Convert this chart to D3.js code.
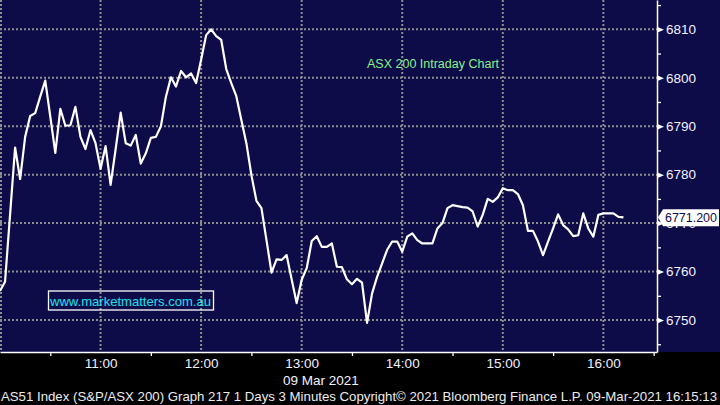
<!DOCTYPE html>
<html>
<head>
<meta charset="utf-8">
<script src="https://cdn.jsdelivr.net/npm/d3@7"></script>
<style>
  body { margin: 0; background: #000; }
  svg { display: block; font-family: "Liberation Sans", Arial, sans-serif; }
</style>
</head>
<body>
<div id="chart"></div>
<script>
// 3 minute bars, the first one at 10:00
const startTime = '2021-03-09 10:00'
const endTime = '2021-03-09 16:32'
const stepMinutes = 3
const values = [
  6756.0, 6757.9, 6771.7, 6785.6, 6779.1, 6787.8, 6792.1, 6792.7, 6796.1, 6799.4,
  6792.0, 6784.5, 6793.6, 6790.1, 6790.2, 6794.0, 6787.8, 6785.3, 6789.2, 6786.5,
  6781.2, 6785.9, 6777.9, 6785.3, 6792.8, 6786.5, 6786.0, 6788.2, 6782.3, 6784.4,
  6787.6, 6787.8, 6790.0, 6796.1, 6800.1, 6798.2, 6801.4, 6800.1, 6800.9, 6798.9,
  6803.7, 6808.8, 6810.0, 6808.6, 6807.8, 6801.8, 6798.9, 6796.2, 6791.3, 6786.5,
  6779.9, 6774.6, 6773.1, 6766.5, 6759.8, 6762.5, 6762.4, 6763.4, 6758.4, 6753.5,
  6758.3, 6760.7, 6766.3, 6767.3, 6765.1, 6765.1, 6765.8, 6761.0, 6760.9, 6758.4,
  6757.4, 6758.5, 6757.7, 6749.4, 6755.5, 6758.9, 6761.7, 6764.5, 6766.2, 6766.2,
  6764.1, 6767.2, 6767.9, 6766.5, 6765.8, 6765.8, 6765.8, 6768.9, 6770.0, 6773.1,
  6773.7, 6773.5, 6773.3, 6773.2, 6772.4, 6769.3, 6771.7, 6775.0, 6774.4, 6775.3,
  6777.2, 6776.8, 6776.8, 6776.0, 6773.7, 6768.4, 6768.4, 6766.2, 6763.4, 6766.2,
  6768.9, 6771.8, 6769.6, 6768.7, 6767.3, 6767.5, 6772.0, 6768.9, 6767.2, 6771.7,
  6772.0, 6772.0, 6772.0, 6771.3, 6771.2
]

const yDomain = [6743.4, 6816.05]
const yTicks = [6750, 6760, 6770, 6780, 6790, 6800, 6810]
const yMinorTicks = [6745, 6755, 6765, 6775, 6785, 6795, 6805, 6815]
const xTicks = ['10:00', '11:00', '12:00', '13:00', '14:00', '15:00', '16:00']
const xMinorTicks = ['10:30', '11:30', '12:30', '13:30', '14:30', '15:30', '16:30']
const lastPrice = 6771.2
const chartTitle = 'ASX 200 Intraday Chart'
const dateLabel = '09 Mar 2021'
const watermark = 'www.marketmatters.com.au'
const footer = 'AS51 Index (S&P/ASX 200) Graph 217 1 Days 3 Minutes Copyright\u00a9 2021 Bloomberg Finance L.P.  09-Mar-2021 16:15:13'

const parseTime = d3.timeParse('%Y-%m-%d %H:%M')
const atTime = hm => parseTime('2021-03-09 ' + hm)

class intradayChart {
  constructor(_parentElement) {
    this.parentElement = _parentElement
    this.initVis()
  }

  initVis() {
    const vis = this

    vis.WIDTH = 720
    vis.HEIGHT = 405
    vis.PLOT_W = 657
    vis.PLOT_H = 352

    vis.svg = d3.select(vis.parentElement).append('svg')
      .attr('width', vis.WIDTH)
      .attr('height', vis.HEIGHT)

    // navy panel, black strip below it
    vis.svg.append('rect')
      .attr('width', vis.WIDTH).attr('height', vis.HEIGHT)
      .attr('fill', '#000')
    vis.svg.append('rect')
      .attr('width', vis.WIDTH).attr('height', vis.PLOT_H)
      .attr('fill', '#0e0b49')

    vis.x = d3.scaleTime()
      .domain([parseTime(startTime), parseTime(endTime)])
      .range([0, vis.PLOT_W])

    vis.y = d3.scaleLinear()
      .domain(yDomain)
      .range([vis.PLOT_H, 0])

    vis.wrangleData()
  }

  wrangleData() {
    const vis = this
    const t0 = parseTime(startTime)
    vis.series = values.map((v, i) => ({ date: d3.timeMinute.offset(t0, i * stepMinutes), value: v }))
    vis.updateVis()
  }

  updateVis() {
    const vis = this
    const grid = vis.svg.append('g')
      .attr('stroke', '#8e8e8e')
      .attr('stroke-width', 2)
      .attr('stroke-dasharray', '2,2')

    // dotted grid
    grid.selectAll('.hgrid')
      .data(yTicks)
      .enter().append('line')
      .attr('x1', 0).attr('x2', vis.PLOT_W)
      .attr('y1', d => vis.y(d)).attr('y2', d => vis.y(d))

    grid.selectAll('.vgrid')
      .data(xTicks)
      .enter().append('line')
      .attr('x1', d => Math.max(1, vis.x(atTime(d))))
      .attr('x2', d => Math.max(1, vis.x(atTime(d))))
      .attr('y1', 0).attr('y2', vis.PLOT_H)

    // price line
    vis.line = d3.line()
      .x(d => vis.x(d.date))
      .y(d => vis.y(d.value))

    vis.svg.append('path')
      .datum(vis.series)
      .attr('d', vis.line)
      .attr('fill', 'none')
      .attr('stroke', '#fff')
      .attr('stroke-width', 2.2)
      .attr('stroke-linejoin', 'round')

    // title and watermark
    vis.svg.append('text')
      .attr('x', 367).attr('y', 68)
      .attr('font-size', 12.5)
      .attr('fill', '#8af08a')
      .text(chartTitle)

    vis.svg.append('rect')
      .attr('x', 48.5).attr('y', 291)
      .attr('width', 165).attr('height', 19)
      .attr('fill', 'none')
      .attr('stroke', '#fff')
      .attr('stroke-width', 1.3)
    vis.svg.append('text')
      .attr('x', 50).attr('y', 306)
      .attr('font-size', 13.5)
      .attr('textLength', 161)
      .attr('lengthAdjust', 'spacingAndGlyphs')
      .attr('fill', '#1ee3ef')
      .text(watermark)

    // right axis
    const yAxis = vis.svg.append('g')
      .attr('transform', `translate(${vis.PLOT_W},0)`)
      .call(d3.axisRight(vis.y).tickValues(yTicks).tickFormat(d3.format('d'))
        .tickSize(0).tickPadding(9).tickSizeOuter(0))
    yAxis.select('.domain').attr('stroke', '#fff').attr('stroke-width', 1.5)
    yAxis.selectAll('text')
      .attr('font-size', 13.5)
      .attr('font-family', '"Liberation Sans", Arial, sans-serif')
      .attr('fill', '#f2f2ff')
    yAxis.selectAll('.tick').append('path')
      .attr('d', 'M0,-3L7,0L0,3Z')
      .attr('fill', '#fff')

    const yMinor = vis.svg.append('g')
      .attr('transform', `translate(${vis.PLOT_W},0)`)
      .call(d3.axisRight(vis.y).tickValues(yMinorTicks).tickSize(4).tickFormat(''))
    yMinor.select('.domain').remove()
    yMinor.selectAll('line').attr('stroke', '#fff').attr('stroke-width', 1.3)

    // last price flag
    const py = vis.y(lastPrice)
    vis.svg.append('path')
      .attr('d', `M${vis.PLOT_W + 1},${py}L${vis.PLOT_W + 6},${py - 8}L719,${py - 8}L719,${py + 9}L${vis.PLOT_W + 6},${py + 9}Z`)
      .attr('fill', '#fff')
    vis.svg.append('text')
      .attr('x', 665).attr('y', py)
      .attr('dy', '0.36em')
      .attr('font-size', 13)
      .attr('textLength', 52)
      .attr('lengthAdjust', 'spacingAndGlyphs')
      .attr('fill', '#0e0b49')
      .text(d3.format('.3f')(lastPrice))

    // bottom axis
    const xAxis = vis.svg.append('g')
      .attr('transform', `translate(0,${vis.PLOT_H})`)
      .call(d3.axisBottom(vis.x)
        .tickValues(xTicks.slice(1).map(atTime))
        .tickFormat(d3.timeFormat('%H:%M'))
        .tickSize(0).tickPadding(6).tickSizeOuter(0))
    xAxis.select('.domain').attr('stroke', '#fff').attr('stroke-width', 1.5)
    xAxis.selectAll('text')
      .attr('font-size', 13.5)
      .attr('font-family', '"Liberation Sans", Arial, sans-serif')
      .attr('fill', '#f2f2ff')

    const xMinor = vis.svg.append('g')
      .attr('transform', `translate(0,${vis.PLOT_H})`)
      .call(d3.axisBottom(vis.x).tickValues(xMinorTicks.map(atTime)).tickSize(4).tickFormat(''))
    xMinor.select('.domain').remove()
    xMinor.selectAll('line').attr('stroke', '#fff').attr('stroke-width', 1.3)

    vis.svg.append('text')
      .attr('x', 283).attr('y', 385)
      .attr('font-size', 13.5)
      .attr('fill', '#f2f2ff')
      .text(dateLabel)

    vis.svg.append('text')
      .attr('x', 1).attr('y', 401)
      .attr('font-size', 13)
      .attr('textLength', 716)
      .attr('lengthAdjust', 'spacingAndGlyphs')
      .attr('fill', '#ececec')
      .text(footer)
  }
}

new intradayChart('#chart')
</script>
</body>
</html>
